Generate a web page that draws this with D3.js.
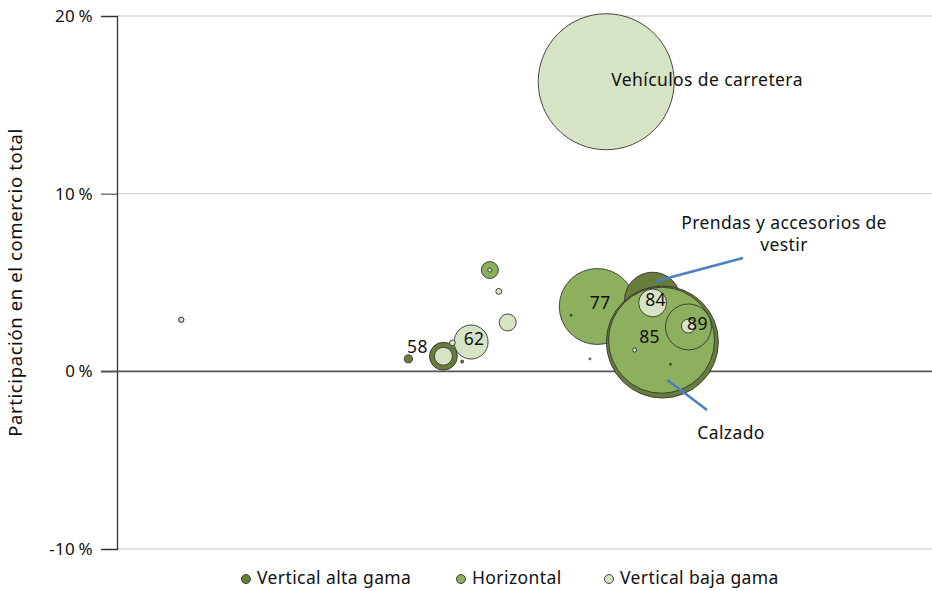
<!doctype html>
<html>
<head>
    <script src="https://d3js.org/d3.v7.min.js"></script>
    <style>
        body { margin: 0; background: #fff; }
        text { font-family: "Noto Sans", "Open Sans", sans-serif; fill: #111; letter-spacing: 0.4px; }
    </style>
</head>
<body>

    <svg width="932" height="591"></svg>

    <script>
        // series / groups
        var groups = ["Vertical alta gama", "Horizontal", "Vertical baja gama"];
        var groupColors = ["#687d3a", "#8cb05e", "#d6e3c4"];

        // one entry per bubble, in drawing order
        var pointGroup = [2, 1, 0, 0, 1, 1, 2, 0, 2, 0, 2, 2, 1, 2, 2, 2, 0, 2, 2, 0, 0, 2, 2, 2];
        var pointX     = [60.1, 59.0, 65.8, 67.0, 66.9, 70.2, 65.8, 40.1, 40.1, 35.8, 43.5, 41.2, 45.8, 45.8, 46.9, 48.0, 42.4, 7.9, 70.2, 68.0, 55.8, 58.1, 63.6, 7.9];
        var pointY     = [16.3, 3.65, 4.0, 1.65, 1.75, 2.5, 3.85, 0.85, 0.85, 0.7, 1.65, 1.6, 5.7, 5.7, 4.5, 2.75, 0.55, 2.9, 2.55, 0.4, 3.15, 0.7, 1.2, 2.9];
        var pointSize  = [100, 31.2, 17, 67.8, 60.7, 11.4, 4.2, 4.2, 1.75, 0.35, 6.25, 0.19, 1.56, 0.09, 0.19, 1.56, 0.05, 0.14, 1.06, 0.02, 0.02, 0.02, 0.09, 0.14];
        var pointLabel = ["", "77", "", "", "85", "89", "84", "", "", "58", "62", "", "", "", "", "", "", "", "", "", "", "", "", ""];

        var yTicks = [-10, 0, 10, 20];

        var svg = d3.select("svg"),
            width = +svg.attr("width"),
            height = +svg.attr("height");

        var margin = {left: 117, right: 0, top: 16, bottom: 42};

        var x = d3.scaleLinear().domain([0, 100]).range([margin.left, width - 1]);
        var y = d3.scaleLinear().domain([-10, 20]).range([height - margin.bottom, margin.top]);
        var r = d3.scaleSqrt().domain([0, 100]).range([0, 68]);

        // gridlines
        svg.append("g")
            .selectAll("line")
            .data(yTicks.filter(d => d != 0))
            .enter().append("line")
            .attr("x1", margin.left).attr("x2", width)
            .attr("y1", d => y(d)).attr("y2", d => y(d))
            .attr("stroke", "#c8c8c8").attr("stroke-width", 1);

        // y axis
        var yAxis = svg.append("g")
            .attr("transform", "translate(" + margin.left + ",0)")
            .call(d3.axisLeft(y).tickValues(yTicks).tickSize(16).tickPadding(8).tickFormat(d => d + "\u2009%"));
        yAxis.select(".domain").attr("stroke", "#333").attr("stroke-width", 1.3);
        yAxis.selectAll(".tick line").attr("stroke", "#333");
        yAxis.selectAll(".tick text")
            .style("font-size", "17px")
            .style("font-family", "'Noto Sans', sans-serif")
            .attr("fill", "#111");

        // zero line
        svg.append("line")
            .attr("x1", margin.left - 16).attr("x2", width)
            .attr("y1", y(0)).attr("y2", y(0))
            .attr("stroke", "#555").attr("stroke-width", 1.8);

        svg.append("text")
            .attr("transform", "translate(22," + y(5) + ") rotate(-90)")
            .attr("text-anchor", "middle")
            .style("font-size", "18.5px")
            .style("letter-spacing", "0.6px")
            .text("Participación en el comercio total");

        // bubbles
        var idx = d3.range(pointX.length);
        svg.append("g")
            .selectAll("circle")
            .data(idx)
            .enter().append("circle")
            .attr("cx", i => x(pointX[i]))
            .attr("cy", i => y(pointY[i]))
            .attr("r", i => Math.max(r(pointSize[i]), 1))
            .attr("fill", i => groupColors[pointGroup[i]])
            .attr("stroke", "#333")
            .attr("stroke-width", 0.9);

        // number labels
        svg.append("g")
            .selectAll("text")
            .data(idx.filter(i => pointLabel[i] != ""))
            .enter().append("text")
            .attr("x", i => x(pointX[i]) + (pointLabel[i] == "85" ? -12 : pointLabel[i] == "58" ? 9 : pointLabel[i] == "89" ? 9 : 3))
            .attr("y", i => y(pointY[i]) + (pointLabel[i] == "58" ? -11 : -2))
            .attr("text-anchor", "middle")
            .attr("dominant-baseline", "middle")
            .style("font-size", "17.5px")
            .text(i => pointLabel[i]);

        // annotations
        svg.append("text")
            .attr("x", x(pointX[0]) + 5).attr("y", y(pointY[0]))
            .attr("dominant-baseline", "middle")
            .style("font-size", "17.5px")
            .text("Vehículos de carretera");

        svg.append("line")
            .attr("x1", 743).attr("y1", 258).attr("x2", x(pointX[2]) + 3).attr("y2", y(pointY[2]) - 19)
            .attr("stroke", "#4a7fc1").attr("stroke-width", 2.5);
        svg.append("text")
            .attr("x", 784).attr("y", 229)
            .attr("text-anchor", "middle")
            .style("font-size", "17.5px")
            .text("Prendas y accesorios de");
        svg.append("text")
            .attr("x", 784).attr("y", 251)
            .attr("text-anchor", "middle")
            .style("font-size", "17.5px")
            .text("vestir");

        svg.append("line")
            .attr("x1", 707).attr("y1", 410).attr("x2", x(pointX[3]) + 5).attr("y2", y(pointY[3]) + 38)
            .attr("stroke", "#4a7fc1").attr("stroke-width", 2.5);
        svg.append("text")
            .attr("x", 731).attr("y", 439)
            .attr("text-anchor", "middle")
            .style("font-size", "17.5px")
            .text("Calzado");

        // legend
        var legendX = [246, 461, 609];
        var legend = svg.append("g")
            .selectAll("g")
            .data(groups)
            .enter().append("g")
            .attr("transform", (d, i) => "translate(" + legendX[i] + ",579)");
        legend.append("circle")
            .attr("r", 4.5)
            .attr("fill", (d, i) => groupColors[i])
            .attr("stroke", "#333").attr("stroke-width", 0.9);
        legend.append("text")
            .attr("x", 11).attr("dominant-baseline", "middle")
            .style("font-size", "17.5px")
            .text(d => d);
    </script>
</body>
</html>
